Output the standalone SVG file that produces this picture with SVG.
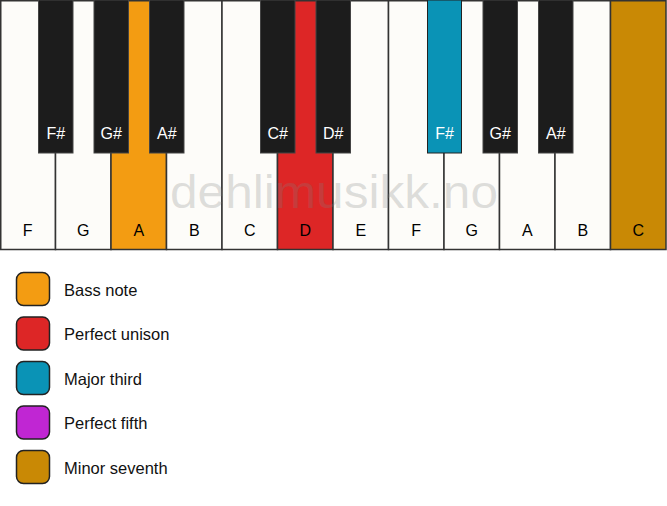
<svg xmlns="http://www.w3.org/2000/svg" width="667" height="506" viewBox="0 0 667 506">
<style>
.w{fill:#fdfcf9;stroke:#333;stroke-width:1.5}
.b{fill:#1c1c1c;stroke:#444;stroke-width:1}
.t{font-family:"Liberation Sans",Arial,sans-serif;font-size:16px;text-anchor:middle}
.lt{font-family:"Liberation Sans",Arial,sans-serif;font-size:16.5px;fill:#111}
.lb{stroke:#222;stroke-width:1.5}
.wm{font-family:"Liberation Sans",Arial,sans-serif;font-size:46px;fill:#808080;fill-opacity:0.25}
</style>
<rect x="0" y="0" width="667" height="506" fill="#ffffff"/>
<g id="white-keys">
<g id="key-F1"><rect class="w" x="0.75" y="0.75" width="54.75" height="248.75"/><text class="t" x="27.75" y="236">F</text></g>
<g id="key-G1"><rect class="w" x="55.5" y="0.75" width="55.5" height="248.75"/><text class="t" x="83.25" y="236">G</text></g>
<g id="key-A1"><rect class="w" x="111" y="0.75" width="55.5" height="248.75" style="fill:#f39c12"/><text class="t" x="138.75" y="236">A</text></g>
<g id="key-B1"><rect class="w" x="166.5" y="0.75" width="55.5" height="248.75"/><text class="t" x="194.25" y="236">B</text></g>
<g id="key-C1"><rect class="w" x="222" y="0.75" width="55.5" height="248.75"/><text class="t" x="249.75" y="236">C</text></g>
<g id="key-D1"><rect class="w" x="277.5" y="0.75" width="55.5" height="248.75" style="fill:#dd2626"/><text class="t" x="305.25" y="236">D</text></g>
<g id="key-E1"><rect class="w" x="333" y="0.75" width="55.5" height="248.75"/><text class="t" x="360.75" y="236">E</text></g>
<g id="key-F2"><rect class="w" x="388.5" y="0.75" width="55.5" height="248.75"/><text class="t" x="416.25" y="236">F</text></g>
<g id="key-G2"><rect class="w" x="444" y="0.75" width="55.5" height="248.75"/><text class="t" x="471.75" y="236">G</text></g>
<g id="key-A2"><rect class="w" x="499.5" y="0.75" width="55.5" height="248.75"/><text class="t" x="527.25" y="236">A</text></g>
<g id="key-B2"><rect class="w" x="555" y="0.75" width="55.5" height="248.75"/><text class="t" x="582.75" y="236">B</text></g>
<g id="key-C2"><rect class="w" x="610.5" y="0.75" width="55.5" height="248.75" style="fill:#c98905"/><text class="t" x="638.25" y="236">C</text></g>
</g>
<text class="wm" x="170" y="208" textLength="328" lengthAdjust="spacingAndGlyphs">dehlimusikk.no</text>
<g id="black-keys">
<g id="key-Fs1"><rect class="b" x="38.5" y="0" width="34.5" height="153"/><text class="t" x="55.75" y="139" fill="#fff">F#</text></g>
<g id="key-Gs1"><rect class="b" x="94" y="0" width="34.5" height="153"/><text class="t" x="111.25" y="139" fill="#fff">G#</text></g>
<g id="key-As1"><rect class="b" x="149.5" y="0" width="34.5" height="153"/><text class="t" x="166.75" y="139" fill="#fff">A#</text></g>
<g id="key-Cs1"><rect class="b" x="260.5" y="0" width="34.5" height="153"/><text class="t" x="277.75" y="139" fill="#fff">C#</text></g>
<g id="key-Ds1"><rect class="b" x="316" y="0" width="34.5" height="153"/><text class="t" x="333.25" y="139" fill="#fff">D#</text></g>
<g id="key-Fs2"><rect class="b" x="427.5" y="0" width="34" height="153" style="fill:#0a93b6;stroke:#222"/><text class="t" x="444.5" y="139" fill="#fff">F#</text></g>
<g id="key-Gs2"><rect class="b" x="483" y="0" width="34.5" height="153"/><text class="t" x="500.25" y="139" fill="#fff">G#</text></g>
<g id="key-As2"><rect class="b" x="538.5" y="0" width="34.5" height="153"/><text class="t" x="555.75" y="139" fill="#fff">A#</text></g>
</g>
<g id="legend">
<g id="legend-bass"><rect class="lb" x="16.5" y="272.5" width="33" height="33" rx="7" fill="#f39c12"/><text class="lt" x="64" y="295.5">Bass note</text></g>
<g id="legend-unison"><rect class="lb" x="16.5" y="317" width="33" height="33" rx="7" fill="#dd2626"/><text class="lt" x="64" y="340">Perfect unison</text></g>
<g id="legend-third"><rect class="lb" x="16.5" y="361.5" width="33" height="33" rx="7" fill="#0a93b6"/><text class="lt" x="64" y="384.5">Major third</text></g>
<g id="legend-fifth"><rect class="lb" x="16.5" y="406" width="33" height="33" rx="7" fill="#c026d3"/><text class="lt" x="64" y="429">Perfect fifth</text></g>
<g id="legend-seventh"><rect class="lb" x="16.5" y="450.5" width="33" height="33" rx="7" fill="#c98905"/><text class="lt" x="64" y="473.5">Minor seventh</text></g>
</g>
</svg>
